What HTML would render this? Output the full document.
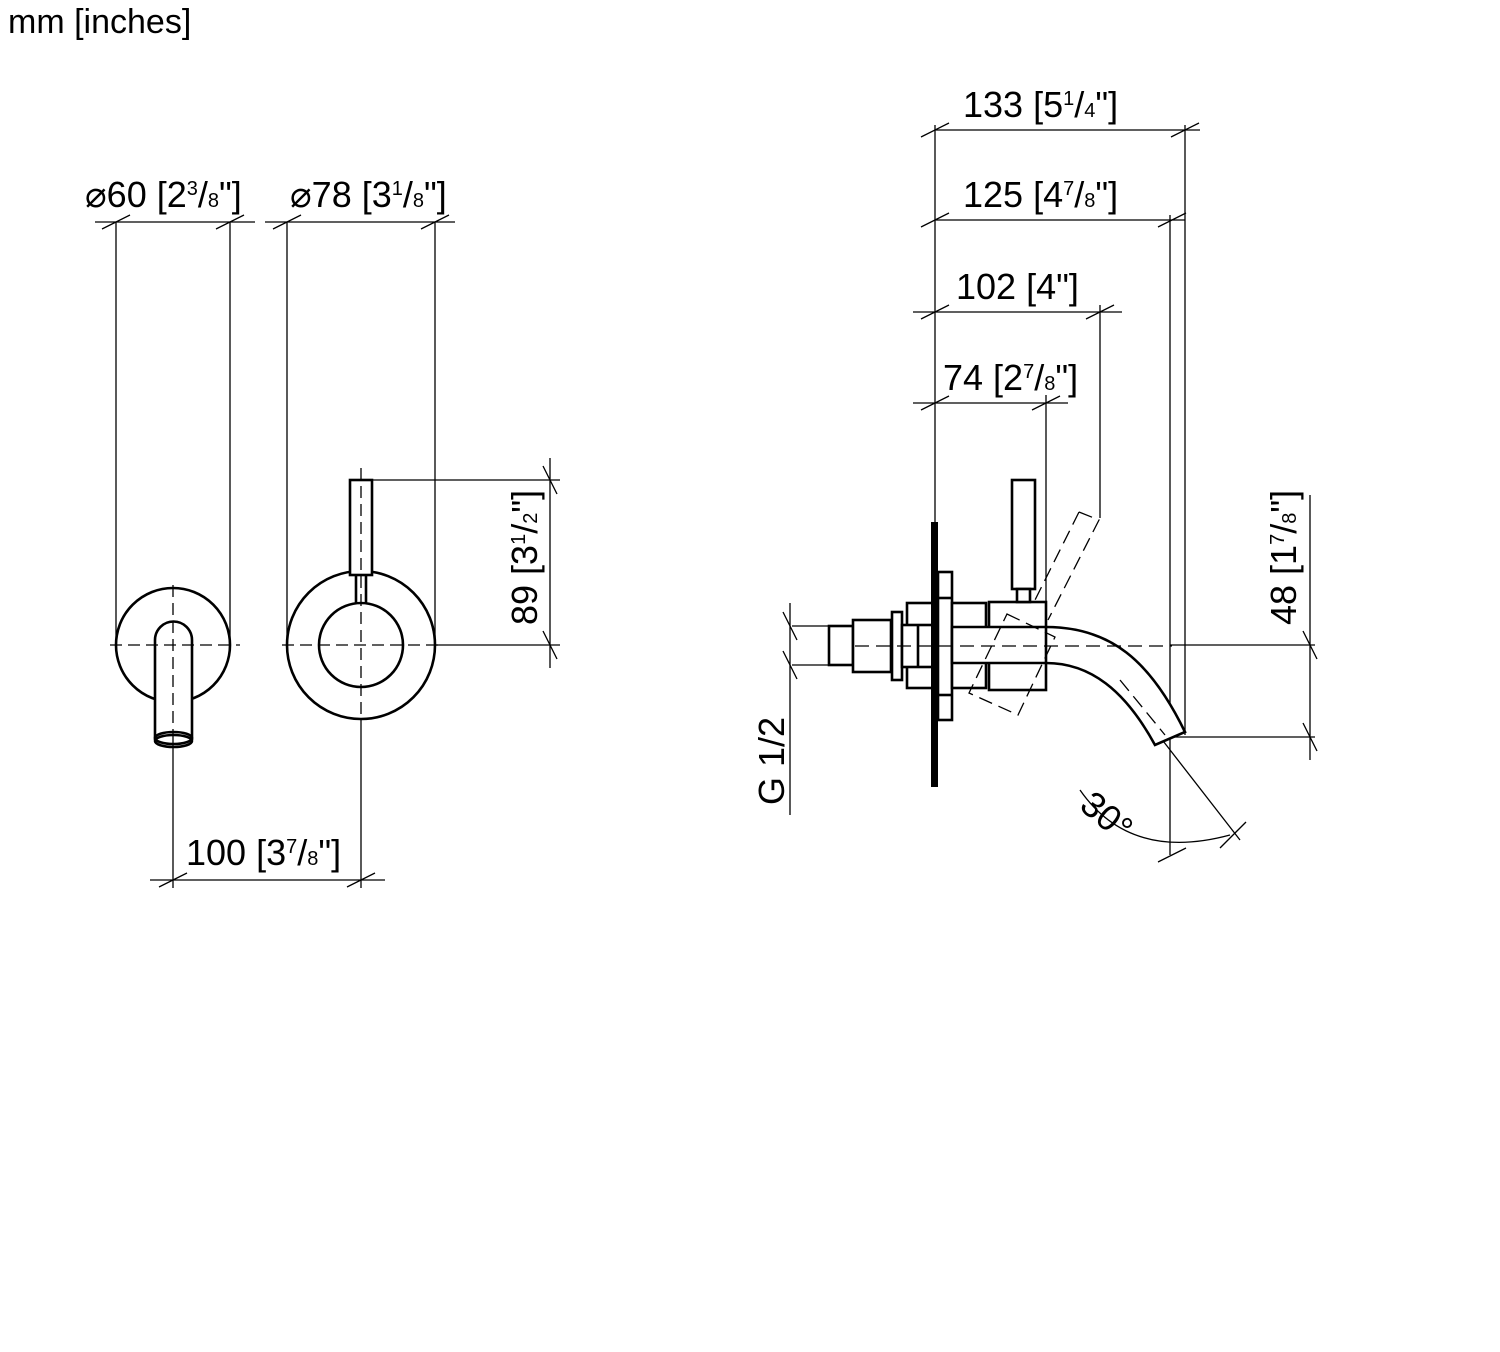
<!DOCTYPE html>
<html><head><meta charset="utf-8"><style>
html,body{margin:0;padding:0;background:#fff;}
svg{display:block}
text{font-family:"Liberation Sans",sans-serif;fill:#000}
</style></head><body>
<svg width="1500" height="1352" viewBox="0 0 1500 1352" xmlns="http://www.w3.org/2000/svg">
<text x="8" y="33" font-size="34">mm [inches]</text>
<g stroke="#000" stroke-width="1.3" fill="none">
<line x1="116" y1="222" x2="116" y2="645"/><line x1="230" y1="222" x2="230" y2="645"/>
<line x1="95" y1="222" x2="255" y2="222"/>
<line x1="287" y1="222" x2="287" y2="645"/><line x1="435" y1="222" x2="435" y2="645"/>
<line x1="265" y1="222" x2="455" y2="222"/>
<line x1="372" y1="480" x2="560" y2="480"/><line x1="435" y1="645" x2="560" y2="645"/>
<line x1="550" y1="458" x2="550" y2="668"/>
<line x1="173" y1="740" x2="173" y2="888"/><line x1="361" y1="720" x2="361" y2="888"/>
<line x1="150" y1="880" x2="385" y2="880"/>
<g>
<line x1="102" y1="229" x2="130" y2="215"/><line x1="216" y1="229" x2="244" y2="215"/>
<line x1="273" y1="229" x2="301" y2="215"/><line x1="421" y1="229" x2="449" y2="215"/>
<line x1="159" y1="887" x2="187" y2="873"/><line x1="347" y1="887" x2="375" y2="873"/>
<line x1="543" y1="466" x2="557" y2="494"/><line x1="543" y1="631" x2="557" y2="659"/>
</g>
</g>
<g stroke="#000" stroke-width="2.6" fill="none">
<circle cx="173" cy="645" r="57" />
<path d="M155,740 L155,640 A18.5,18.5 0 0 1 192,640 L192,740" fill="#fff"/>
<ellipse cx="173.5" cy="738" rx="18.5" ry="6"/>
<ellipse cx="173.5" cy="741" rx="18.5" ry="6"/>
<circle cx="361" cy="645" r="74"/>
<circle cx="361" cy="645" r="42"/>
<rect x="350" y="480" width="22" height="95" fill="#fff"/>
<line x1="356" y1="575" x2="356" y2="603"/><line x1="366" y1="575" x2="366" y2="603"/>
</g>
<g stroke="#000" stroke-width="1.3" fill="none" stroke-dasharray="12,6">
<line x1="110" y1="645" x2="240" y2="645"/><line x1="173" y1="585" x2="173" y2="740"/>
<line x1="282" y1="645" x2="440" y2="645"/><line x1="361" y1="468" x2="361" y2="720"/>
</g>
<text x="85" y="207" font-size="36">⌀60 [2<tspan font-size="20" dy="-12">3</tspan><tspan dy="12">/</tspan><tspan font-size="20">8</tspan>"]</text>
<text x="290" y="207" font-size="36">⌀78 [3<tspan font-size="20" dy="-12">1</tspan><tspan dy="12">/</tspan><tspan font-size="20">8</tspan>"]</text>
<text x="186" y="865" font-size="36">100 [3<tspan font-size="20" dy="-12">7</tspan><tspan dy="12">/</tspan><tspan font-size="20">8</tspan>"]</text>
<text transform="translate(537,625) rotate(-90)" font-size="36">89 [3<tspan font-size="20" dy="-12">1</tspan><tspan dy="12">/</tspan><tspan font-size="20">2</tspan>"]</text>

<g stroke="#000" stroke-width="1.3" fill="none">
<line x1="935" y1="125" x2="935" y2="522"/>
<line x1="1185" y1="125" x2="1185" y2="735"/>
<line x1="1170" y1="215" x2="1170" y2="855"/>
<line x1="1100" y1="305" x2="1100" y2="518"/>
<line x1="1046" y1="395" x2="1046" y2="602"/>
<line x1="935" y1="130" x2="1200" y2="130"/>
<line x1="935" y1="220" x2="1185" y2="220"/>
<line x1="913" y1="312" x2="1122" y2="312"/>
<line x1="913" y1="403" x2="1068" y2="403"/>
<line x1="921" y1="137" x2="949" y2="123"/><line x1="1171" y1="137" x2="1199" y2="123"/>
<line x1="921" y1="227" x2="949" y2="213"/><line x1="1158" y1="227" x2="1186" y2="213"/>
<line x1="921" y1="319" x2="949" y2="305"/><line x1="1086" y1="319" x2="1114" y2="305"/>
<line x1="921" y1="410" x2="949" y2="396"/><line x1="1032" y1="410" x2="1060" y2="396"/>
<line x1="1170" y1="645" x2="1315" y2="645"/>
<line x1="1172" y1="737" x2="1315" y2="737"/>
<line x1="1310" y1="495" x2="1310" y2="760"/>
<line x1="1303" y1="631" x2="1317" y2="659"/><line x1="1303" y1="723" x2="1317" y2="751"/>
<line x1="792" y1="626" x2="830" y2="626"/><line x1="792" y1="665" x2="830" y2="665"/>
<line x1="790" y1="603" x2="790" y2="815"/>
<line x1="783" y1="612" x2="797" y2="640"/><line x1="783" y1="651" x2="797" y2="679"/>
<line x1="1160" y1="737" x2="1240" y2="840"/>
<path d="M1080,790 Q1130,862 1230,835"/>
<line x1="1158" y1="862" x2="1186" y2="848"/>
<line x1="1220" y1="848" x2="1246" y2="822"/>
</g>
<text x="963" y="117" font-size="36">133 [5<tspan font-size="20" dy="-12">1</tspan><tspan dy="12">/</tspan><tspan font-size="20">4</tspan>"]</text>
<text x="963" y="207" font-size="36">125 [4<tspan font-size="20" dy="-12">7</tspan><tspan dy="12">/</tspan><tspan font-size="20">8</tspan>"]</text>
<text x="956" y="299" font-size="36">102 [4"]</text>
<text x="943" y="390" font-size="36">74 [2<tspan font-size="20" dy="-12">7</tspan><tspan dy="12">/</tspan><tspan font-size="20">8</tspan>"]</text>
<text transform="translate(1296,625) rotate(-90)" font-size="36">48 [1<tspan font-size="20" dy="-12">7</tspan><tspan dy="12">/</tspan><tspan font-size="20">8</tspan>"]</text>
<text transform="translate(784,805) rotate(-90)" font-size="36">G 1/2</text>
<text transform="translate(1078,808) rotate(40)" font-size="36">30°</text>

<g stroke="#000" stroke-width="2.6" fill="#fff">
<rect x="938" y="572" width="14" height="148"/>
<line x1="938" y1="598" x2="952" y2="598"/><line x1="938" y1="695" x2="952" y2="695"/>
<rect x="907" y="603" width="26" height="85"/>
<rect x="829" y="626" width="24" height="39"/>
<rect x="853" y="620" width="38" height="52"/>
<rect x="892" y="612" width="10" height="68"/>
<rect x="902" y="625" width="31" height="42"/>
<line x1="918" y1="625" x2="918" y2="667"/>
<rect x="952" y="603" width="34" height="85"/>
<rect x="989" y="602" width="57" height="88"/>
<rect x="1012" y="480" width="23" height="109"/>
<rect x="1017" y="589" width="13" height="13"/>
<path d="M952,627 L1046,627 C1110,627 1150,660 1185,732 L1155,745 C1125,690 1090,663 1046,663 L952,663 Z"/>
<line x1="1046" y1="627" x2="1046" y2="663"/>
</g>
<rect x="931" y="522" width="7" height="265" fill="#000"/>
<g stroke="#000" stroke-width="1.3" fill="none" stroke-dasharray="14,7">
<line x1="855" y1="646" x2="1172" y2="646"/>
<path d="M1079,512 L1099,520 L1048,620"/>
<path d="M1079,512 L1035,600"/>
<path d="M1007,614 L1055,637 L1018,715 L969,693 Z"/>
<path d="M1120,680 L1165,735"/>
</g>
</svg>
</body></html>
